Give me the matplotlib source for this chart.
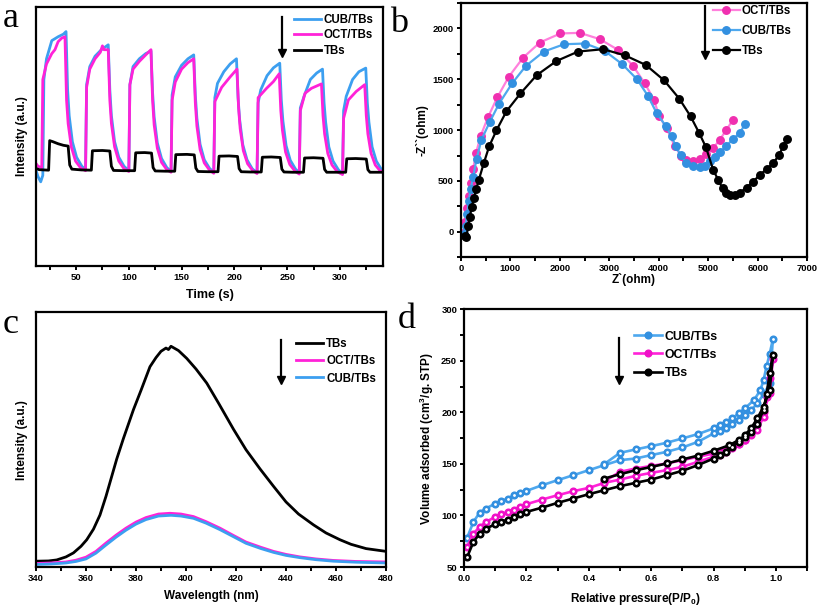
import matplotlib
matplotlib.use('Agg')
import matplotlib.pyplot as plt
from matplotlib.ticker import MultipleLocator

plt.rcParams['font.family'] = ['Liberation Sans', 'DejaVu Sans']
plt.rcParams['font.weight'] = 'bold'
plt.rcParams['mathtext.fontset'] = 'custom'
plt.rcParams['mathtext.rm'] = 'Liberation Sans:bold'
plt.rcParams['mathtext.bf'] = 'Liberation Sans:bold'
plt.rcParams['mathtext.default'] = 'bf'

BLUE = '#3c9ff0'
PINK = '#ff22d8'
BLACK = '#000000'

# ---- panel a: photocurrent (time s, normalised intensity)
cub_a = [(12, 0.37), (14, 0.345), (16.5, 0.325), (18.5, 0.35), (19.5, 0.72), (22, 0.80), (27, 0.87),
         (33, 0.885), (38, 0.895), (40.5, 0.905),
         (42, 0.68), (43.5, 0.58), (46.5, 0.48), (50.5, 0.42), (55.5, 0.385), (59, 0.372),
         (60, 0.70), (63, 0.77), (68, 0.81), (74, 0.835), (80.5, 0.854),
         (82, 0.68), (83.5, 0.58), (86.5, 0.48), (90.5, 0.42), (95.5, 0.385), (100, 0.368),
         (101, 0.70), (104, 0.77), (110, 0.80), (116, 0.82), (121, 0.83),
         (122.5, 0.67), (124, 0.575), (127, 0.475), (131, 0.415), (136, 0.38), (140, 0.365),
         (141, 0.66), (144, 0.73), (150, 0.775), (156, 0.80), (161.5, 0.815),
         (163, 0.66), (164.5, 0.57), (167.5, 0.47), (171.5, 0.41), (176.5, 0.377), (180.5, 0.362),
         (181.5, 0.65), (184, 0.705), (190, 0.75), (196, 0.78), (202, 0.80),
         (203.5, 0.65), (205, 0.565), (208, 0.468), (212, 0.41), (217, 0.375), (221.5, 0.36),
         (222.5, 0.63), (225, 0.68), (231, 0.735), (237, 0.765), (243, 0.783),
         (244.5, 0.64), (246, 0.56), (249, 0.465), (253, 0.408), (258, 0.374), (261.5, 0.36),
         (262.5, 0.61), (266, 0.655), (272, 0.72), (278, 0.745), (283.5, 0.76),
         (285, 0.63), (286.5, 0.555), (289.5, 0.46), (293.5, 0.405), (298.5, 0.372), (302.5, 0.356),
         (303.5, 0.60), (306, 0.655), (312, 0.72), (318, 0.75), (324.5, 0.764),
         (326, 0.63), (327.5, 0.555), (330.5, 0.46), (334.5, 0.405), (339, 0.375), (341, 0.368)]
oct_a = [(12, 0.396), (14, 0.385), (17.5, 0.38), (18.5, 0.72), (22, 0.78), (27, 0.82), (30, 0.835),
         (33, 0.866), (36.5, 0.88), (39.5, 0.885),
         (41, 0.64), (42.5, 0.55), (45.5, 0.46), (49.5, 0.405), (54.5, 0.378), (59, 0.368),
         (60, 0.69), (63, 0.76), (68, 0.80), (73, 0.825), (75, 0.85), (76.5, 0.835), (80.5, 0.835),
         (82, 0.64), (83.5, 0.55), (86.5, 0.46), (90.5, 0.405), (95.5, 0.375), (100, 0.365),
         (101, 0.70), (104, 0.76), (110, 0.79), (116, 0.815), (121, 0.835),
         (122.5, 0.64), (124, 0.545), (127, 0.455), (131, 0.4), (136, 0.372), (140, 0.362),
         (141, 0.64), (144, 0.71), (150, 0.76), (156, 0.785), (161.5, 0.80),
         (163, 0.63), (164.5, 0.54), (167.5, 0.45), (171.5, 0.398), (176.5, 0.37), (180.5, 0.358),
         (181.5, 0.635), (188, 0.69), (196, 0.73), (202.5, 0.76),
         (204, 0.61), (205.5, 0.53), (208.5, 0.445), (212.5, 0.395), (217.5, 0.368), (221.5, 0.357),
         (222.5, 0.65), (230.5, 0.686), (237, 0.712), (242.5, 0.742),
         (244, 0.60), (245.5, 0.525), (248.5, 0.44), (252.5, 0.392), (257.5, 0.366), (261.5, 0.355),
         (262.5, 0.60), (267, 0.667), (273, 0.686), (282.5, 0.703),
         (284, 0.58), (285.5, 0.51), (288.5, 0.435), (292.5, 0.39), (297.5, 0.364), (302.5, 0.353),
         (303.5, 0.57), (308, 0.641), (315.5, 0.674), (323.5, 0.70),
         (325, 0.58), (326.5, 0.51), (329.5, 0.435), (333.5, 0.39), (338, 0.368), (341, 0.362)]
tbs_a = [(12, 0.377), (15, 0.372), (24, 0.37), (25, 0.484), (28, 0.48), (33, 0.472), (38, 0.466),
         (42.5, 0.463), (44, 0.39), (46, 0.374), (55, 0.371), (64.5, 0.37),
         (65.5, 0.445), (75, 0.446), (82, 0.444), (83.5, 0.385), (85.5, 0.369), (95, 0.368), (105.5, 0.368),
         (106.5, 0.437), (115, 0.438), (121.5, 0.436), (123, 0.38), (125, 0.367), (135, 0.366), (143.5, 0.366),
         (144.5, 0.43), (155, 0.431), (162, 0.429), (163.5, 0.378), (165.5, 0.365), (175, 0.364), (184.5, 0.364),
         (185.5, 0.424), (195, 0.425), (203, 0.423), (204.5, 0.376), (206.5, 0.364), (215, 0.363), (225.5, 0.363),
         (226.5, 0.42), (235, 0.421), (243.5, 0.419), (245, 0.374), (247, 0.363), (255, 0.362), (265.5, 0.362),
         (266.5, 0.417), (275, 0.418), (284, 0.416), (285.5, 0.373), (287.5, 0.362), (295, 0.362), (305.5, 0.362),
         (306.5, 0.414), (315, 0.415), (325, 0.413), (326.5, 0.372), (328.5, 0.362), (341, 0.362)]

# ---- panel b: Nyquist (Z', -Z'')
oct_b = [(50, -10), (90, 100), (120, 230), (160, 350), (200, 480), (250, 620), (310, 780), (404, 946),
         (552, 1130), (741, 1325), (970, 1525), (1260, 1713), (1597, 1862), (2014, 1951), (2405, 1957),
         (2809, 1895), (3180, 1789), (3483, 1631), (3719, 1460), (3901, 1301), (4009, 1137), (4157, 1021),
         (4325, 840), (4460, 741), (4548, 708), (4696, 698), (4830, 715), (4965, 764), (5100, 824),
         (5235, 906), (5369, 1005), (5504, 1104)]
cub_b = [(60, -20), (100, 60), (130, 180), (160, 300), (200, 420), (250, 540), (320, 720), (418, 906),
         (586, 1081), (775, 1262), (1037, 1460), (1314, 1631), (1678, 1773), (2088, 1845), (2513, 1852),
         (2910, 1779), (3267, 1647), (3564, 1499), (3786, 1334), (3955, 1170), (4137, 1044), (4258, 939),
         (4345, 840), (4440, 758), (4561, 675), (4696, 643), (4830, 633), (4931, 649), (5033, 692),
         (5134, 735), (5235, 781), (5369, 847), (5504, 913), (5639, 972), (5750, 1064)]
tbs_b = [(90, -40), (115, -49), (150, 60), (182, 148), (220, 240), (263, 329), (310, 420), (364, 511),
         (465, 675), (573, 840), (721, 998), (923, 1186), (1206, 1361), (1530, 1539), (1934, 1680),
         (2371, 1773), (2877, 1796), (3315, 1736), (3739, 1641), (4110, 1489), (4413, 1311), (4642, 1137),
         (4817, 972), (4952, 834), (5100, 610), (5201, 511), (5289, 428), (5356, 379), (5437, 359),
         (5538, 366), (5639, 385), (5774, 435), (5909, 494), (6043, 560), (6178, 616), (6313, 675),
         (6434, 758), (6515, 840), (6582, 913)]

# ---- panel c: PL spectra (nm, normalised intensity)
tbs_c = [(340, 0.013), (345, 0.014), (348.3, 0.018), (352, 0.03), (355, 0.046), (358, 0.072), (360.3, 0.098),
         (363, 0.14), (365.6, 0.196), (368, 0.27), (372.3, 0.418), (375, 0.50), (379, 0.614), (382, 0.69),
         (385.6, 0.784), (388, 0.82), (390, 0.845), (392, 0.858), (393, 0.852), (394, 0.865), (397, 0.848),
         (400.3, 0.817), (404, 0.775), (408.3, 0.719), (413, 0.64), (419, 0.536), (424, 0.455),
         (429.6, 0.379), (435, 0.31), (440, 0.248), (445, 0.2), (451, 0.157), (456, 0.125), (461.6, 0.098),
         (466, 0.08), (472, 0.063), (480, 0.052)]
oct_c = [(340, 0.004), (346, 0.006), (352, 0.010), (356, 0.017), (360, 0.029), (364, 0.052), (368, 0.085),
         (372, 0.116), (376, 0.144), (380, 0.168), (384, 0.186), (389, 0.200), (393.6, 0.203), (398, 0.200),
         (403, 0.190), (408, 0.170), (413.6, 0.144), (419, 0.115), (424, 0.089), (430, 0.068), (435, 0.052),
         (440, 0.040), (445.6, 0.030), (452, 0.022), (459, 0.016), (468, 0.012), (480, 0.010)]
cub_c = [(340, 0.0), (346, 0.002), (352, 0.006), (356, 0.012), (360, 0.022), (364, 0.045), (368, 0.077),
         (372, 0.108), (376, 0.136), (380, 0.160), (384, 0.178), (389, 0.192), (394, 0.195), (398, 0.192),
         (403, 0.183), (408, 0.164), (413.6, 0.138), (419, 0.110), (424, 0.084), (430, 0.063), (435, 0.048),
         (440, 0.036), (445.6, 0.027), (452, 0.019), (459, 0.013), (468, 0.009), (480, 0.006)]

# ---- panel d: N2 isotherms (P/P0, cm3/g STP), adsorption then desorption
cub_d = [(0.01, 78.5), (0.03, 93.7), (0.05, 102.8), (0.07, 106.7), (0.1, 111.5), (0.12, 113.8), (0.14, 116.4),
         (0.16, 119.6), (0.18, 121.9), (0.2, 123.8), (0.25, 129.3), (0.3, 134.2), (0.35, 139), (0.4, 143.9),
         (0.45, 148.8), (0.5, 153.6), (0.55, 155.2), (0.6, 158.5), (0.65, 161.7), (0.7, 165.9), (0.75, 171.4),
         (0.8, 179.5), (0.82, 182), (0.84, 185), (0.86, 188.5), (0.88, 192.5), (0.9, 197.4), (0.92, 202),
         (0.94, 208.7), (0.96, 217.4), (0.98, 228), (0.99, 271),
         (0.98, 257), (0.97, 245), (0.96, 231), (0.95, 221.6), (0.93, 212), (0.9, 203.8), (0.88, 199),
         (0.86, 194), (0.84, 190.9), (0.82, 187.6), (0.8, 184.4), (0.75, 178.9), (0.7, 174.7), (0.65, 170.5),
         (0.6, 167.2), (0.55, 164), (0.5, 160.7), (0.45, 150)]
oct_d = [(0.01, 69.4), (0.03, 82.4), (0.05, 88.9), (0.07, 93.7), (0.1, 98.6), (0.12, 101.2), (0.14, 103.4),
         (0.16, 105.7), (0.18, 108.3), (0.2, 110.9), (0.25, 115.4), (0.3, 119.6), (0.35, 123.5), (0.4, 126.7),
         (0.45, 131.6), (0.5, 134.8), (0.55, 138.4), (0.6, 141.3), (0.65, 143.9), (0.7, 147.2), (0.75, 152),
         (0.8, 156.9), (0.82, 158.5), (0.84, 161.7), (0.86, 165), (0.88, 168.8), (0.9, 173), (0.92, 179.5),
         (0.94, 187.6), (0.96, 200.6), (0.98, 218.4), (0.99, 251.4),
         (0.98, 233), (0.97, 215), (0.96, 195.7), (0.94, 182.8), (0.92, 178), (0.9, 173), (0.88, 169),
         (0.86, 166.5), (0.84, 163.9), (0.82, 161.6), (0.8, 160), (0.75, 156.9), (0.7, 153.6), (0.65, 150.4),
         (0.6, 148), (0.55, 145.5), (0.5, 142.3), (0.45, 133)]
tbs_d = [(0.01, 59.7), (0.03, 74.3), (0.05, 82.4), (0.07, 87.2), (0.1, 91.5), (0.12, 93.8), (0.14, 96),
         (0.16, 98.6), (0.18, 101.2), (0.2, 103.4), (0.25, 107.6), (0.3, 112.2), (0.35, 116.4), (0.4, 120.6),
         (0.45, 124.5), (0.5, 128.4), (0.55, 131.6), (0.6, 134.8), (0.65, 139), (0.7, 143.3), (0.75, 148.8),
         (0.8, 155.2), (0.82, 158.5), (0.84, 161.7), (0.86, 166.6), (0.88, 171.4), (0.9, 177.9), (0.92, 184.4),
         (0.94, 194), (0.96, 205.4), (0.98, 221.6), (0.99, 255.6),
         (0.98, 237.8), (0.97, 218), (0.96, 202), (0.94, 189), (0.92, 181), (0.9, 176), (0.88, 173),
         (0.85, 168), (0.8, 162.7), (0.75, 158), (0.7, 154.3), (0.65, 150.4), (0.6, 147), (0.55, 143.8),
         (0.5, 140), (0.45, 135.8)]


def xy(pts):
    return [p[0] for p in pts], [p[1] for p in pts]


def style(ax, fs=6.8):
    for s in ax.spines.values():
        s.set_linewidth(1.6)
    ax.tick_params(which='both', direction='out', length=3, width=1.4, labelsize=fs, pad=2)
    for lab in ax.get_xticklabels() + ax.get_yticklabels():
        lab.set_fontweight('bold')


def arrow(ax, x, y0, y1):
    # vertical "decreasing" arrow beside the legend: shaft + triangle head, in axes fractions
    ax.plot([x, x], [y0, y1 + 0.02], color='black', lw=1.6, transform=ax.transAxes, clip_on=False, zorder=6)
    ax.plot([x], [y1 + 0.014], marker='v', ms=6, color='black', transform=ax.transAxes, clip_on=False,
            zorder=6)


fig = plt.figure(figsize=(8.17, 6.11), dpi=100)

# a
ax = fig.add_axes([0.044, 0.5646, 0.425, 0.424])
for pts, c, lab in [(cub_a, BLUE, 'CUB/TBs'), (oct_a, PINK, 'OCT/TBs'), (tbs_a, BLACK, 'TBs')]:
    t, v = xy(pts)
    ax.plot(t, v, color=c, lw=2.0, label=lab)
ax.set_xlim(12, 341)
ax.set_ylim(0, 1)
ax.xaxis.set_major_locator(MultipleLocator(50))
ax.xaxis.set_minor_locator(MultipleLocator(25))
ax.set_yticks([])
style(ax)
ax.set_xlabel('Time (s)', fontsize=9, fontweight='bold', labelpad=5)
ax.set_ylabel('Intensity (a.u.)', fontsize=8.5, fontweight='bold', labelpad=6)
ax.legend(loc='upper left', bbox_to_anchor=(0.72, 1.005), frameon=False, fontsize=8.3,
          handlelength=2.3, handletextpad=0.3, labelspacing=0.3, borderpad=0.2)
arrow(ax, 0.71, 0.96, 0.81)

# b
ax = fig.add_axes([0.564, 0.579, 0.424, 0.416])
for pts, c, ec, lab in [(oct_b, '#ff80dc', '#f030b0', 'OCT/TBs'), (cub_b, '#4ea8ee', '#3390e0', 'CUB/TBs'),
                        (tbs_b, BLACK, BLACK, 'TBs')]:
    zr, zi = xy(pts)
    ax.plot(zr, zi, color=c, lw=1.6, marker='o', ms=5.4, mfc=ec, mec=ec, label=lab)
ax.set_xlim(0, 7000)
ax.set_ylim(-250, 2250)
ax.xaxis.set_major_locator(MultipleLocator(1000))
ax.xaxis.set_minor_locator(MultipleLocator(500))
ax.yaxis.set_major_locator(MultipleLocator(500))
ax.yaxis.set_minor_locator(MultipleLocator(250))
style(ax)
ax.set_xlabel('Z`(ohm)', fontsize=8.5, fontweight='bold', labelpad=0)
ax.set_ylabel('-Z``(ohm)', fontsize=8.5, fontweight='bold', labelpad=3)
ax.legend(loc='upper left', bbox_to_anchor=(0.705, 1.025), frameon=False, fontsize=8.3,
          handlelength=2.3, handletextpad=0.2, labelspacing=0.7, borderpad=0.2)
arrow(ax, 0.705, 0.99, 0.78)

# c
ax = fig.add_axes([0.044, 0.072, 0.4285, 0.417])
for pts, c, lab in [(tbs_c, BLACK, 'TBs'), (oct_c, PINK, 'OCT/TBs'), (cub_c, BLUE, 'CUB/TBs')]:
    w, v = xy(pts)
    ax.plot(w, v, color=c, lw=2.0, label=lab)
ax.set_xlim(340, 480)
ax.set_ylim(-0.01, 1)
ax.xaxis.set_major_locator(MultipleLocator(20))
ax.xaxis.set_minor_locator(MultipleLocator(10))
ax.set_yticks([])
style(ax)
ax.set_xlabel('Wavelength (nm)', fontsize=8.5, fontweight='bold', labelpad=5)
ax.set_ylabel('Intensity (a.u.)', fontsize=8.5, fontweight='bold', labelpad=6)
ax.legend(loc='upper left', bbox_to_anchor=(0.72, 0.93), frameon=False, fontsize=8.3,
          handlelength=2.3, handletextpad=0.3, labelspacing=0.45, borderpad=0.2)
arrow(ax, 0.7, 0.89, 0.72)

# d
ax = fig.add_axes([0.568, 0.072, 0.420, 0.422])
for pts, c, ec, lab in [(cub_d, '#4ea8ee', '#3390e0', 'CUB/TBs'), (oct_d, PINK, '#f010c8', 'OCT/TBs'),
                        (tbs_d, BLACK, BLACK, 'TBs')]:
    p, v = xy(pts)
    ax.plot(p, v, color=c, lw=1.9, marker='o', ms=4.8, mfc=ec, mec=ec, label=lab)
    ax.plot(p, v, ls='none', marker='o', ms=1.0, color='white')
ax.set_xlim(0, 1.1)
ax.set_ylim(50, 300)
ax.xaxis.set_minor_locator(MultipleLocator(0.1))
ax.yaxis.set_major_locator(MultipleLocator(50))
ax.yaxis.set_minor_locator(MultipleLocator(25))
ax.set_xticks([0.0, 0.2, 0.4, 0.6, 0.8, 1.0])
ax.set_xticklabels(['0.0', '0.2', '0.4', '0.6', '0.8', '1.0'])
style(ax)
ax.set_xlabel('Relative pressure(P/P$_0$)', fontsize=8.5, fontweight='bold', labelpad=6)
ax.set_ylabel('Volume adsorbed (cm$^3$/g. STP)', fontsize=8.5, fontweight='bold', labelpad=4)
ax.legend(loc='upper left', bbox_to_anchor=(0.47, 0.95), frameon=False, fontsize=8.8,
          handlelength=2.3, handletextpad=0.2, labelspacing=0.5, borderpad=0.2)
arrow(ax, 0.452, 0.89, 0.71)

# panel letters
for x, y, s in [(0.003, 0.955, 'a'), (0.478, 0.948, 'b'), (0.003, 0.455, 'c'), (0.487, 0.463, 'd')]:
    fig.text(x, y, s, fontsize=26, family='Liberation Serif', fontweight='normal', va='baseline')

fig.savefig('out.png', dpi=100)
